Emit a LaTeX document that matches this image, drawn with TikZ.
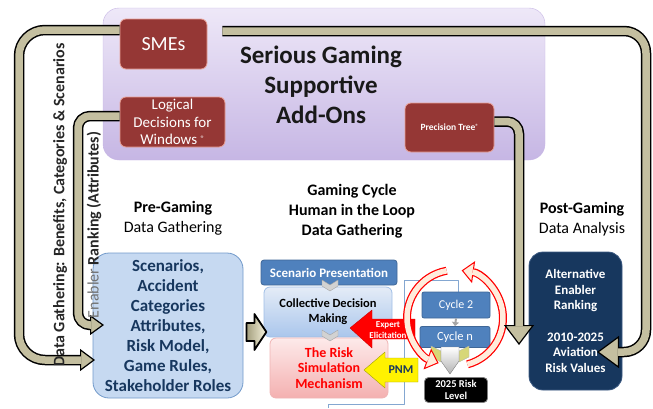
\documentclass[tikz,border=0pt]{standalone}
\usepackage{fontspec}
\setmainfont{Carlito}
\usetikzlibrary{arrows.meta}
\definecolor{timnhat}{RGB}{238,232,248}
\definecolor{timdam}{RGB}{198,182,228}
\definecolor{dodo}{RGB}{149,55,53}
\definecolor{vienhong}{RGB}{232,160,150}
\definecolor{xanh}{RGB}{79,129,189}
\definecolor{xanhnhat}{RGB}{198,217,241}
\definecolor{xanhdam}{RGB}{23,55,94}
\definecolor{xanhvien}{RGB}{160,190,230}
\definecolor{xanhtren}{RGB}{228,236,247}
\definecolor{xanhduoi}{RGB}{170,198,236}
\definecolor{hongvien}{RGB}{240,180,180}
\definecolor{hongtren}{RGB}{253,234,234}
\definecolor{hongduoi}{RGB}{244,176,176}
\definecolor{kemtoi}{RGB}{150,145,110}
\definecolor{kemsang}{RGB}{248,244,222}
\definecolor{vangvien}{RGB}{160,160,0}
\definecolor{vangxam}{RGB}{215,215,120}
\definecolor{navyvien}{RGB}{60,90,130}
\definecolor{bangdan}{RGB}{196,191,160}
\definecolor{cam}{RGB}{255,236,220}
\begin{document}
\begin{tikzpicture}[x=1pt,y=-1pt,line join=round,
	hop/.style={rounded corners=6pt,draw=#1,line width=0.8pt,align=center,inner sep=0pt},
	vien/.style n args={3}{black,line width=10.5pt,rounded corners=#1,
		-{Triangle[length=#2,width=#3,fill=bangdan,line width=1.2pt]}},
	ruot/.style n args={2}{bangdan,line width=7.5pt,rounded corners=#1,shorten >=#2},
	vong/.style={red,line width=8pt,-{Triangle[length=12pt,width=22pt,fill=cam,line width=1pt]}},
	longvong/.style={cam,line width=5.5pt,shorten >=11pt}]
	\useasboundingbox (0,0) rectangle (653,408);
	%==Khung tim phia tren
	\draw[rounded corners=16pt,draw=timdam,top color=timnhat,bottom color=timdam] (103,8) rectangle (545,160);
	\node[align=center,font=\bfseries\fontsize{25}{30}\selectfont,text=black!90] (tieude) at (321,85) {Serious Gaming\\Supportive\\Add-Ons};
	\node[hop=vienhong,fill=dodo,text=white,minimum width=87pt,minimum height=50pt,font=\fontsize{20}{24}\selectfont] (sme) at (163.5,44) {SMEs};
	\node[hop=vienhong,fill=dodo,text=white,minimum width=105pt,minimum height=50pt,font=\fontsize{15}{17.5}\selectfont] (ldw) at (172.5,122) {Logical\\Decisions for\\Windows {\fontsize{8}{8}\selectfont\raisebox{3pt}{®}}};
	\node[hop=vienhong,fill=dodo,text=white,minimum width=89pt,minimum height=49pt,font=\bfseries\fontsize{9.5}{11}\selectfont] (pt) at (449.5,127.5) {Precision Tree{\fontsize{6}{6}\selectfont\raisebox{2pt}{®}}};
	%==Cac tieu de
	\node[align=center,font=\fontsize{16}{20}\selectfont] (truoc) at (173,218) {\textbf{Pre-Gaming}\\Data Gathering};
	\node[align=center,font=\bfseries\fontsize{16}{20}\selectfont] (vongchoi) at (352,211) {Gaming Cycle\\Human in the Loop\\Data Gathering};
	\node[align=center,font=\fontsize{16}{20}\selectfont] (sau) at (582,219) {\textbf{Post-Gaming}\\Data Analysis};
	%==Cac hop
	\node[hop=xanh!80!white,fill=xanhnhat,rounded corners=16pt,minimum width=150pt,minimum height=145pt,text=xanhdam,font=\bfseries\fontsize{17}{20}\selectfont] (kb) at (168,325.5) {Scenarios,\\Accident\\Categories\\Attributes,\\Risk Model,\\Game Rules,\\Stakeholder Roles};
	\draw[xanh!70,line width=1pt] (328,408)--(328,404)--(404,404)--(404,280)--(458,280)--(458,292);
	\node[hop=xanh!80!black,rounded corners=3pt,fill=xanh,text=white,minimum width=136pt,minimum height=25pt,font=\bfseries\fontsize{13}{15}\selectfont] (sp) at (329,272.5) {Scenario Presentation};
	\node[hop=xanhvien,top color=xanhtren,bottom color=xanhduoi,minimum width=128pt,minimum height=50pt,font=\bfseries\fontsize{12.5}{15}\selectfont] (cdm) at (328,312) {Collective Decision\\Making};
	\node[hop=hongvien,top color=hongtren,bottom color=hongduoi,minimum width=118pt,minimum height=60pt,text=red,font=\bfseries\fontsize{14}{15.5}\selectfont] (rsm) at (329,368) {The Risk\\Simulation\\Mechanism};
	\foreach \y in {280,330} \draw[fill=gray!35,draw=gray!70] (322,\y)--++(8,5)--++(8,-5)--++(0,6)--++(-8,5)--++(-8,-5)--cycle;
	%==Mui ten khoi
	\draw[line width=1.8pt,left color=kemtoi,right color=kemsang] (kb.east)++(3,-2.5)--++(8,0)--++(0,-9)--++(12,18)--++(-12,18)--++(0,-9)--++(-8,0)--cycle;
	\draw[fill=red,draw=red!80!black] (350,328)--++(22,-18)--++(0,9)--++(43,0)--++(0,20)--++(-43,0)--++(0,9)--cycle;
	\node[align=center,text=white,font=\bfseries\fontsize{9}{11}\selectfont] (cg) at (388,330) {Expert\\Elicitation};
	\draw[fill=yellow,draw=vangvien] (364,370)--++(21,-18)--++(0,6)--++(33,0)--++(0,24)--++(-33,0)--++(0,6)--cycle;
	\node[text=xanhdam,font=\bfseries\fontsize{12}{14}\selectfont] (pnm) at (401,370) {PNM};
	%==Chu ky
	\node[hop=xanh!80!black,rounded corners=2pt,fill=xanh,text=white,minimum width=68pt,minimum height=26pt,font=\fontsize{12}{14}\selectfont] (c2) at (456,305) {Cycle 2};
	\node[hop=xanh!80!black,rounded corners=2pt,fill=xanh,text=white,minimum width=70pt,minimum height=21pt,font=\fontsize{12.5}{14}\selectfont] (cn) at (455,337) {Cycle n};
	\draw[gray!70,line width=2pt,-{Triangle[length=4pt,width=7pt]}] (c2.south) -- (cn.north);
	\draw[fill=vangxam,draw=gray!60] (431,346)--(441,351)--(441,362)--(431,357)--cycle;
	\draw[fill=vangxam,draw=gray!60] (469,346)--(459,351)--(459,362)--(469,357)--cycle;
	\draw[top color=white,bottom color=gray!60,draw=gray] (441,347)--(459,347)--(459,361)--(450,374)--(441,361)--cycle;
	\node[hop=gray,rounded corners=4pt,fill=black,text=white,minimum width=63pt,minimum height=25pt,font=\bfseries\fontsize{10.5}{12}\selectfont] (rl) at (456,390) {2025 Risk\\Level};
	\coordinate (O) at (455,318);
	\draw[vong] (O) ++(-100:48) arc[start angle=-100,end angle=-250,radius=48];
	\draw[longvong] (O) ++(-100:48) arc[start angle=-100,end angle=-250,radius=48];
	\draw[vong] (O) ++(75:48) arc[start angle=75,end angle=-82,radius=48];
	\draw[longvong] (O) ++(75:48) arc[start angle=75,end angle=-82,radius=48];
	%==Hop sau tro choi
	\node[hop=navyvien,rounded corners=14pt,fill=xanhdam,text=white,minimum width=93pt,minimum height=138pt,font=\bfseries\fontsize{13}{15.7}\selectfont] (post) at (575.5,321) {Alternative\\Enabler\\Ranking\\[15.7pt]2010-2025\\Aviation\\Risk Values};
	%==Cac mui ten lon
	\coordinate (T1) at (95,360);
	\coordinate (T2) at (104,325);
	\coordinate (T3) at (597,352);
	\coordinate (T4) at (519,345);
	\draw[vien={26pt}{15pt}{22pt}] ([yshift=14pt]sme.west) -| (19,360) -- (T1);
	\draw[ruot={26pt}{14pt}] ([yshift=14pt]sme.west) -| (19,360) -- (T1);
	\draw[vien={12pt}{14pt}{20pt}] ([yshift=6pt]ldw.west) -| (78,325) -- (T2);
	\draw[ruot={12pt}{13pt}] ([yshift=6pt]ldw.west) -| (78,325) -- (T2);
	\draw[vien={22pt}{22pt}{32pt},shorten <=15pt] ([yshift=13pt]sme.east) -| (646,352) -- (T3);
	\draw[ruot={22pt}{21pt},shorten <=15pt] ([yshift=13pt]sme.east) -| (646,352) -- (T3);
	\draw[vien={12pt}{20pt}{30pt}] ([yshift=6pt]pt.east) -| (T4);
	\draw[ruot={12pt}{19pt}] ([yshift=6pt]pt.east) -| (T4);
	%==Chu doc
	\node[rotate=90,font=\bfseries\fontsize{16}{16}\selectfont,text=black!85] (nhan1) at (60,205) {Data Gathering: Benefits, Categories \& Scenarios};
	\node[rotate=90,font=\bfseries\fontsize{16}{16}\selectfont,text=black!85] (nhan2) at (94,225) {{\mdseries\color{black!55}Enabler} Ranking (Attributes)};
\end{tikzpicture}
\end{document}
